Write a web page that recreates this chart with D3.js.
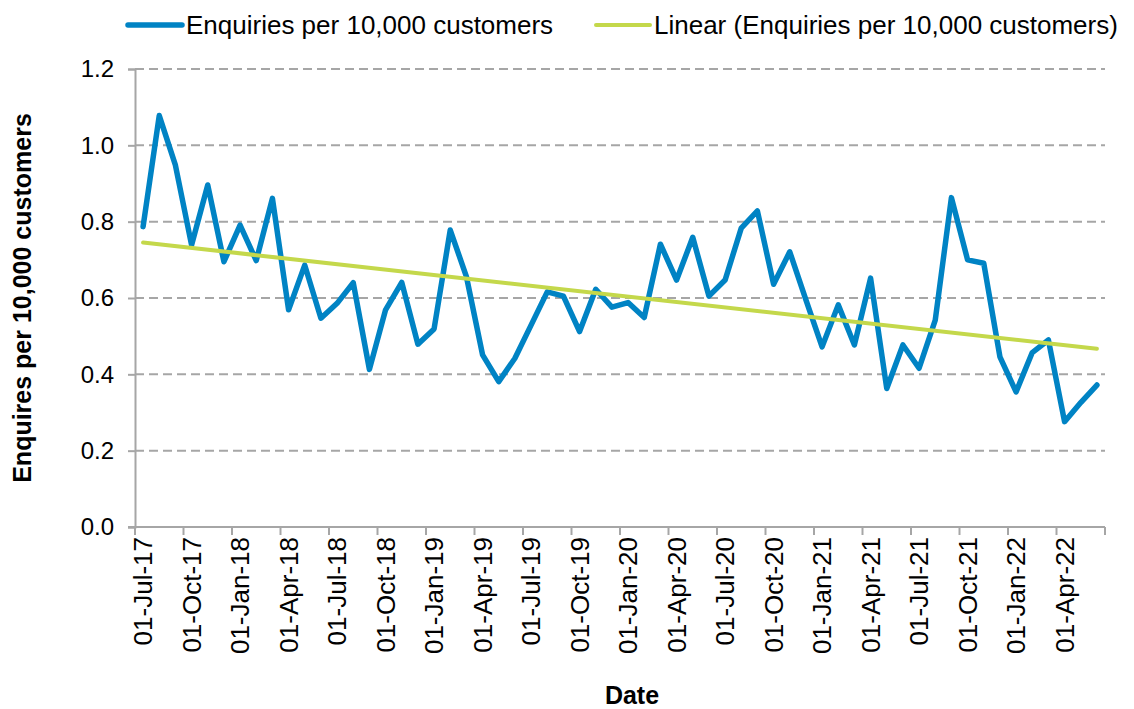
<!DOCTYPE html>
<html>
<head>
<meta charset="utf-8">
<script src="https://cdn.jsdelivr.net/npm/d3@7"></script>
<style>
  body { margin: 0; background: #fff; }
  text { font-family: "Liberation Sans", Arial, sans-serif; }
</style>
</head>
<body>
<div id="chart"></div>
<script>
// monthly enquiries, Jul-17 .. Jun-22
var months = d3.timeMonth.range(new Date(2017, 6, 1), new Date(2022, 6, 1))
var enquiries = [0.787, 1.078, 0.948, 0.739, 0.896, 0.695, 0.791, 0.698, 0.861, 0.569,
                 0.686, 0.547, 0.586, 0.640, 0.413, 0.569, 0.641, 0.479, 0.519, 0.778,
                 0.656, 0.451, 0.381, 0.442, 0.529, 0.616, 0.605, 0.512, 0.623, 0.576,
                 0.588, 0.549, 0.741, 0.647, 0.759, 0.605, 0.647, 0.783, 0.828, 0.636,
                 0.721, 0.595, 0.472, 0.582, 0.477, 0.652, 0.363, 0.477, 0.416, 0.542,
                 0.863, 0.700, 0.691, 0.446, 0.354, 0.457, 0.490, 0.276, 0.326, 0.372]
var yTicks = [0, 0.2, 0.4, 0.6, 0.8, 1.0, 1.2]
var seriesNames = ["Enquiries per 10,000 customers", "Linear (Enquiries per 10,000 customers)"]

var width = 1134, height = 709
var margin = {top: 69, right: 29, bottom: 182, left: 135}
var blue = "#0083c4", green = "#c4d84b", grey = "#a6a6a6"

var svg = d3.select("#chart")
  .append("svg")
    .attr("width", width)
    .attr("height", height)

// ---------------------------//
//       AXIS  AND SCALE      //
// ---------------------------//

var x = d3.scaleBand()
  .domain(months)
  .range([margin.left, width - margin.right])
  .padding(0)

var y = d3.scaleLinear()
  .domain([0, 1.2])
  .range([height - margin.bottom, margin.top])

var cx = function(d) { return x(d) + x.bandwidth() / 2 }

// gridlines
svg.append("g")
  .selectAll("line")
  .data(yTicks.slice(1))
  .enter()
  .append("line")
    .attr("x1", margin.left)
    .attr("x2", width - margin.right)
    .attr("y1", function(d) { return y(d) })
    .attr("y2", function(d) { return y(d) })
    .attr("stroke", grey)
    .attr("stroke-width", 2)
    .attr("stroke-dasharray", "9,5")

// y axis
var yAxis = svg.append("g")
  .attr("transform", "translate(" + margin.left + ",0)")
  .call(d3.axisLeft(y).tickValues(yTicks).tickFormat(d3.format(".1f")).tickSize(7).tickPadding(14))
yAxis.select(".domain").attr("stroke", grey).attr("stroke-width", 2)
yAxis.selectAll(".tick line").attr("stroke", grey).attr("stroke-width", 2)
yAxis.selectAll("text").style("font-size", "24px").attr("fill", "#000")
  .style("font-family", "'Liberation Sans', Arial, sans-serif")

// x axis: ticks on month boundaries every 3 months, labels centred on the month
var xAxisG = svg.append("g")
  .attr("transform", "translate(0," + y(0) + ")")
xAxisG.append("line")
  .attr("x1", margin.left - 7)
  .attr("x2", width - margin.right)
  .attr("stroke", grey)
  .attr("stroke-width", 2)

var tickMonths = months.filter(function(d, i) { return i % 3 == 0 })
var edges = tickMonths.map(function(d) { return x(d) }).concat([width - margin.right])
xAxisG.selectAll(".xtick")
  .data(edges)
  .enter()
  .append("line")
    .attr("class", "xtick")
    .attr("x1", function(d) { return d })
    .attr("x2", function(d) { return d })
    .attr("y1", 0)
    .attr("y2", 8)
    .attr("stroke", grey)
    .attr("stroke-width", 2)

var fmt = d3.timeFormat("%d-%b-%y")
xAxisG.selectAll(".xlabel")
  .data(tickMonths)
  .enter()
  .append("text")
    .attr("class", "xlabel")
    .attr("transform", function(d) { return "translate(" + cx(d) + ",10) rotate(-90)" })
    .attr("text-anchor", "end")
    .attr("dy", "0.35em")
    .style("font-size", "26px")
    .text(function(d) { return fmt(d) })

// axis titles
svg.append("text")
  .attr("x", (margin.left + width - margin.right) / 2 + 12)
  .attr("y", 704)
  .attr("text-anchor", "middle")
  .style("font-size", "25px")
  .style("font-weight", "bold")
  .text("Date")

svg.append("text")
  .attr("transform", "translate(31," + (y(0) + y(1.2)) / 2 + ") rotate(-90)")
  .attr("text-anchor", "middle")
  .style("font-size", "25px")
  .style("font-weight", "bold")
  .text("Enquires per 10,000 customers")

// ---------------------------//
//       LINES                //
// ---------------------------//

var points = months.map(function(d, i) { return {date: d, value: enquiries[i]} })

var line = d3.line()
  .x(function(d) { return cx(d.date) })
  .y(function(d) { return y(d.value) })

svg.append("path")
  .datum(points)
  .attr("fill", "none")
  .attr("stroke", blue)
  .attr("stroke-width", 5.5)
  .attr("stroke-linejoin", "round")
  .attr("stroke-linecap", "round")
  .attr("d", line)

// least squares trend
var n = enquiries.length
var mx = d3.mean(enquiries, function(d, i) { return i })
var my = d3.mean(enquiries)
var sxy = d3.sum(enquiries, function(d, i) { return (i - mx) * (d - my) })
var sxx = d3.sum(enquiries, function(d, i) { return (i - mx) * (i - mx) })
var slope = sxy / sxx, icpt = my - slope * mx
var trend = [0, n - 1].map(function(i) { return {date: months[i], value: icpt + slope * i} })

svg.append("path")
  .datum(trend)
  .attr("fill", "none")
  .attr("stroke", green)
  .attr("stroke-width", 4)
  .attr("stroke-linecap", "round")
  .attr("d", line)

// ---------------------------//
//       LEGEND               //
// ---------------------------//

var legendX = [128, 596]
var legend = svg.append("g")
  .selectAll("g")
  .data(seriesNames)
  .enter()
  .append("g")
    .attr("transform", function(d, i) { return "translate(" + legendX[i] + ",25)" })
legend.append("line")
  .attr("x1", 0)
  .attr("x2", 54)
  .attr("stroke", function(d, i) { return i == 0 ? blue : green })
  .attr("stroke-width", function(d, i) { return i == 0 ? 5.5 : 4 })
  .attr("stroke-linecap", "round")
legend.append("text")
  .attr("x", 58)
  .attr("y", 9)
  .style("font-size", "26px")
  .text(function(d) { return d })
</script>
</body>
</html>
